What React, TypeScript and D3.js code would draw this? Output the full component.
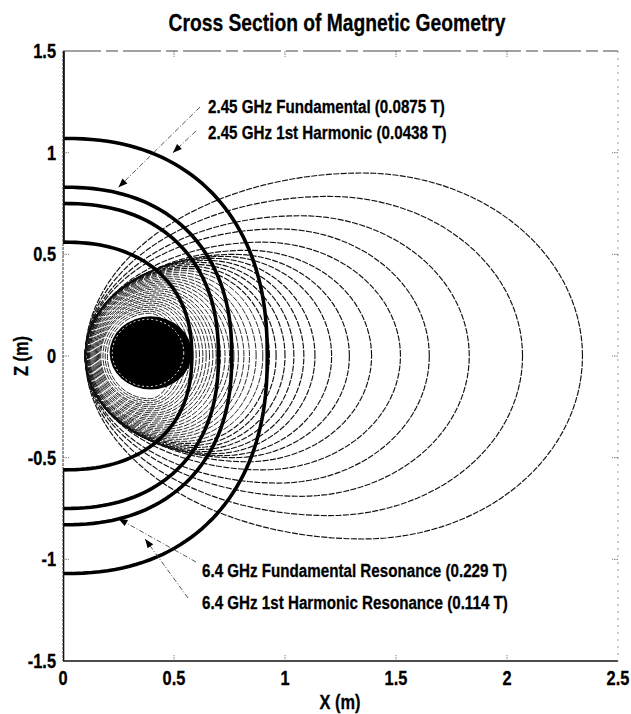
import React, { useEffect, useRef } from 'react';
import * as d3 from 'd3';

// field contours (inner -> outer): right x-intercept, top height, x of the top, left x-intercept
const contourRight = [0.50, 0.52, 0.54, 0.555, 0.57, 0.585, 0.60, 0.615, 0.63, 0.645, 0.66, 0.675, 0.69, 0.71, 0.73, 0.75, 0.77, 0.79, 0.815, 0.84, 0.87, 0.90, 0.93, 0.96, 1.0, 1.04, 1.085, 1.135, 1.21, 1.29, 1.39, 1.52, 1.65, 1.83, 2.07, 2.34];
const contourTop = [0.21, 0.22, 0.23, 0.24, 0.25, 0.26, 0.27, 0.28, 0.29, 0.30, 0.31, 0.32, 0.33, 0.34, 0.35, 0.36, 0.37, 0.38, 0.39, 0.40, 0.41, 0.42, 0.43, 0.44, 0.45, 0.46, 0.47, 0.48, 0.49, 0.50, 0.52, 0.56, 0.625, 0.69, 0.785, 0.90];
const contourTopX = [0.39, 0.39, 0.39, 0.39, 0.40, 0.40, 0.40, 0.41, 0.41, 0.42, 0.42, 0.43, 0.43, 0.44, 0.45, 0.46, 0.47, 0.48, 0.49, 0.50, 0.52, 0.54, 0.56, 0.58, 0.60, 0.62, 0.65, 0.68, 0.72, 0.77, 0.83, 0.90, 0.97, 1.07, 1.20, 1.35];
const contourLeft = [0.20, 0.19, 0.18, 0.17, 0.165, 0.16, 0.155, 0.15, 0.145, 0.14, 0.135, 0.13, 0.125, 0.12, 0.12, 0.115, 0.115, 0.11, 0.11, 0.11, 0.105, 0.105, 0.10, 0.10, 0.10, 0.10, 0.10, 0.10, 0.10, 0.10, 0.10, 0.10, 0.10, 0.10, 0.10, 0.10];

// resonance surfaces: height on the axis, x at mid-plane
const resonanceTop = [0.56, 0.75, 0.83, 1.07];
const resonanceRight = [0.58, 0.70, 0.76, 0.92];

// coil cross-section
const coilCenter = [0.395, 0.015];
const coilRadius = [0.185, 0.18];

const xTicks = [0, 0.5, 1, 1.5, 2, 2.5];
const yTicks = [-1.5, -1, -0.5, 0, 0.5, 1, 1.5];

const topLabels = ['2.45 GHz Fundamental (0.0875 T)', '2.45 GHz 1st Harmonic (0.0438 T)'];
const bottomLabels = ['6.4 GHz Fundamental Resonance (0.229 T)', '6.4 GHz 1st Harmonic Resonance (0.114 T)'];

const FONT = '"Liberation Sans", Arial, sans-serif';
const NARROW = 0.82; // Arial Narrow look

const Chart = () => {
  const ref = useRef(null);

  useEffect(() => {
    const width = 631;
    const height = 714;
    const margin = { top: 51, right: 13, bottom: 53, left: 63 };

    const x = d3.scaleLinear().domain([0, 2.5]).range([margin.left, width - margin.right]);
    const y = d3.scaleLinear().domain([-1.5, 1.5]).range([height - margin.bottom, margin.top]);

    const svg = d3.select(ref.current)
      .append('svg')
      .attr('width', width)
      .attr('height', height)
      .style('position', 'absolute')
      .style('left', 0)
      .style('top', 0)
      .style('background', '#fff');

    svg.append('defs').append('clipPath').attr('id', 'plot')
      .append('rect')
      .attr('x', x(0)).attr('y', y(1.5))
      .attr('width', x(2.5) - x(0)).attr('height', y(-1.5) - y(1.5));

    const line = d3.line().x(d => x(d[0])).y(d => y(d[1]));

    // egg shaped closed contour from two half ellipses
    const egg = (xl, xt, zt, xr) => {
      const pts = [];
      const n = 120;
      for (let i = 0; i <= n; i++) {
        const t = (2 * Math.PI * i) / n;
        const c = Math.cos(t);
        const r = c >= 0 ? xr - xt : xt - xl;
        pts.push([xt + r * c, zt * Math.sin(t)]);
      }
      return pts;
    };

    const g = svg.append('g').attr('clip-path', 'url(#plot)');

    g.selectAll('path.contour')
      .data(contourRight)
      .join('path')
      .attr('class', 'contour')
      .attr('fill', 'none')
      .attr('stroke', '#111')
      .attr('stroke-width', (d, i) => (i < 22 ? 0.9 : 1.15))
      .attr('stroke-dasharray', '6 1.4')
      .attr('d', (d, i) => line(egg(contourLeft[i], contourTopX[i], contourTop[i], d)));

    // coil
    g.append('ellipse')
      .attr('cx', x(coilCenter[0]))
      .attr('cy', y(coilCenter[1]))
      .attr('rx', x(coilRadius[0]) - x(0))
      .attr('ry', y(0) - y(coilRadius[1]))
      .attr('fill', '#000');
    g.append('ellipse')
      .attr('cx', x(coilCenter[0] - 0.012))
      .attr('cy', y(coilCenter[1]))
      .attr('rx', x(coilRadius[0] * 0.87) - x(0))
      .attr('ry', y(0) - y(coilRadius[1] * 0.92))
      .attr('fill', 'none')
      .attr('stroke', '#fff')
      .attr('stroke-width', 0.9)
      .attr('stroke-dasharray', '2 2.5');

    // resonance surfaces (thick)
    const sup = (z0, xe) => {
      const pts = [];
      const p = 2.3;
      const n = 90;
      for (let i = 0; i <= n; i++) {
        const t = -Math.PI / 2 + (Math.PI * i) / n;
        const c = Math.cos(t);
        const s = Math.sin(t);
        pts.push([xe * Math.pow(Math.abs(c), 2 / p), Math.sign(s) * z0 * Math.pow(Math.abs(s), 2 / p)]);
      }
      return pts;
    };
    g.selectAll('path.res')
      .data(resonanceTop)
      .join('path')
      .attr('class', 'res')
      .attr('fill', 'none')
      .attr('stroke', '#000')
      .attr('stroke-width', 3.6)
      .attr('d', (d, i) => line(sup(d, resonanceRight[i])));

    // thick chamber wall on the axis
    g.append('path').attr('stroke', '#000').attr('stroke-width', 3.6)
      .attr('d', line([[0, 1.5], [0, resonanceTop[0]]]));
    g.append('path').attr('stroke', '#000').attr('stroke-width', 2.6)
      .attr('d', line([[0, -resonanceTop[0]], [0, -1.5]]));

    // frame
    svg.append('line')
      .attr('x1', x(0)).attr('x2', x(2.5)).attr('y1', y(-1.5)).attr('y2', y(-1.5))
      .attr('stroke', '#111').attr('stroke-width', 1.6);
    svg.append('line')
      .attr('x1', x(0)).attr('x2', x(0)).attr('y1', y(1.5)).attr('y2', y(-1.5))
      .attr('stroke', '#333').attr('stroke-width', 1).attr('stroke-dasharray', '3 1');
    svg.append('line')
      .attr('x1', x(0)).attr('x2', x(2.5)).attr('y1', y(1.5)).attr('y2', y(1.5))
      .attr('stroke', '#444').attr('stroke-width', 1.2).attr('stroke-dasharray', '38 5 12 5');
    svg.append('line')
      .attr('x1', x(2.5)).attr('x2', x(2.5)).attr('y1', y(1.5)).attr('y2', y(-1.5))
      .attr('stroke', '#999').attr('stroke-width', 1).attr('stroke-dasharray', '2 5');

    // ticks
    const ticks = svg.append('g').attr('stroke', '#555').attr('stroke-width', 0.8).attr('stroke-dasharray', '1.5 1');
    xTicks.slice(1, -1).forEach(t => {
      ticks.append('line').attr('x1', x(t)).attr('x2', x(t)).attr('y1', y(-1.5)).attr('y2', y(-1.5) - 6);
      ticks.append('line').attr('x1', x(t)).attr('x2', x(t)).attr('y1', y(1.5)).attr('y2', y(1.5) + 6);
    });
    yTicks.slice(1, -1).forEach(t => {
      ticks.append('line').attr('x1', x(0)).attr('x2', x(0) + 6).attr('y1', y(t)).attr('y2', y(t));
      ticks.append('line').attr('x1', x(2.5)).attr('x2', x(2.5) - 6).attr('y1', y(t)).attr('y2', y(t));
    });

    const text = svg.append('g')
      .attr('font-family', FONT)
      .attr('font-weight', 'bold')
      .attr('fill', '#000')
      .attr('stroke', '#000')
      .attr('stroke-width', 0.3);

    // narrow text: translate, optional rotate, then squeeze horizontally
    const label = (s, px, py, size, anchor, rot = 0) => {
      text.append('g')
        .attr('transform', `translate(${px},${py}) rotate(${rot}) scale(${NARROW},1)`)
        .append('text')
        .attr('text-anchor', anchor)
        .attr('font-size', size)
        .text(s);
    };

    xTicks.forEach(d => label(String(d), x(d), y(-1.5) + 24, 20, 'middle'));
    yTicks.forEach(d => label(String(d), x(0) - 7, y(d) + 7, 20, 'end'));

    label('Cross Section of Magnetic Geometry', 337, 31, 23.5, 'middle');
    label('X (m)', 340, 709, 20, 'middle');
    label('Z (m)', 28, y(0), 20, 'middle', -90);

    // annotations
    const labelPos = [[208, 113], [208, 139], [202, 577], [202, 609]];
    [...topLabels, ...bottomLabels].forEach((s, i) => {
      label(s, labelPos[i][0], labelPos[i][1], 18.5, 'start');
    });

    // leaders: start (px) -> target on a surface (data)
    const leaders = [
      { from: [200, 107], to: [0.25, resonanceTop[2]] },
      { from: [196, 131], to: [0.495, 1.0] },
      { from: [196, 562], to: [0.25, -0.8] },
      { from: [188, 598], to: [0.37, -0.9] },
    ];
    const lead = svg.append('g');
    leaders.forEach(l => {
      const tx = x(l.to[0]);
      const ty = y(l.to[1]);
      lead.append('line')
        .attr('x1', l.from[0]).attr('y1', l.from[1]).attr('x2', tx).attr('y2', ty)
        .attr('stroke', '#444').attr('stroke-width', 0.9).attr('stroke-dasharray', '5 2 1 2');
      const ang = Math.atan2(ty - l.from[1], tx - l.from[0]);
      const len = 9;
      const w = 3.5;
      const bx = tx - len * Math.cos(ang);
      const by = ty - len * Math.sin(ang);
      lead.append('path')
        .attr('fill', '#000')
        .attr('d', `M${tx},${ty}L${bx - w * Math.sin(ang)},${by + w * Math.cos(ang)}L${bx + w * Math.sin(ang)},${by - w * Math.cos(ang)}Z`);
    });

    return () => {
      d3.select(ref.current).selectAll('*').remove();
    };
  }, []);

  return <div ref={ref}></div>;
};

export default function App() {
  return <Chart />;
}
